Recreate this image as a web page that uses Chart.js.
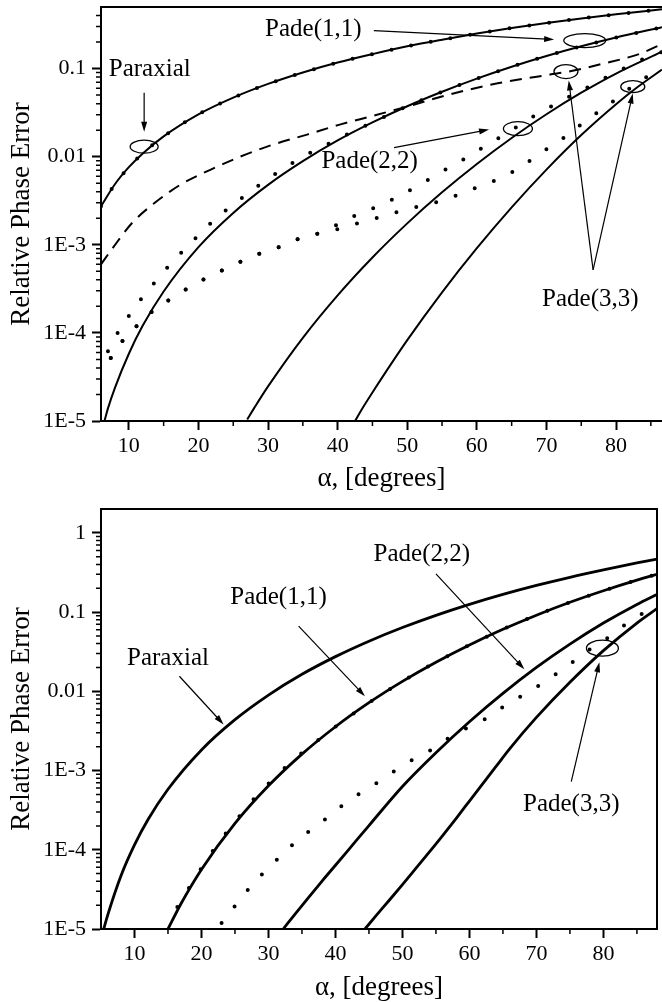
<!DOCTYPE html>
<html>
<head>
<meta charset="utf-8">
<script src="https://cdn.jsdelivr.net/npm/chart.js@4.4.1/dist/chart.umd.min.js"></script>
<style>
  html, body { margin: 0; padding: 0; background: #fff; }
  #wrap { position: relative; width: 662px; height: 1002px; }
  canvas { position: absolute; left: 0; }
  #topChart { top: 0; }
  #bottomChart { top: 500px; }
</style>
</head>
<body>
<div id="wrap">
  <canvas id="topChart" width="662" height="500"></canvas>
  <canvas id="bottomChart" width="662" height="502"></canvas>
</div>
<script>
// ================= TICKS =================
const xTickValues = [10, 20, 30, 40, 50, 60, 70, 80];
const xMinorTicks = [15, 25, 35, 45, 55, 65, 75, 85];
const yTickValues = [1e-5, 1e-4, 1e-3, 0.01, 0.1, 1];
const yTickText = ['1E-5', '1E-4', '1E-3', '0.01', '0.1', '1'];

// ================= TOP PANEL DATA =================
const topParaxialAngle = [6, 8, 10, 12, 15, 20, 25, 30, 35, 40, 45, 50, 55, 60, 65, 70, 75, 80, 86.6];
const topParaxialError = [0.00274, 0.00487, 0.0076, 0.0109, 0.0170, 0.0302, 0.0468, 0.0670, 0.0904, 0.117, 0.146, 0.179, 0.213, 0.250, 0.289, 0.329, 0.371, 0.413, 0.470];

const topPade11Angle = [6.5, 7, 8, 10, 12, 15, 20, 25, 30, 35, 40, 45, 50, 55, 60, 65, 70, 75, 80, 86.6];
const topPade11Error = [1.0e-5, 1.39e-5, 2.38e-5, 5.8e-5, 1.21e-4, 2.95e-4, 9.4e-4, 2.30e-3, 4.79e-3, 8.9e-3, 0.0153, 0.0245, 0.0374, 0.0546, 0.0769, 0.105, 0.139, 0.179, 0.225, 0.295];

const topPade11DotAngle = [7.0, 8.4, 10.0, 11.9, 13.9, 16.1, 18.5, 20.9, 23.5, 26.1, 28.6, 31.1, 33.6, 36.2, 38.8, 41.3, 45, 50, 55, 60, 65, 70, 75, 80, 86.6];
const topPade11DotError = [6.2e-5, 1.0e-4, 1.56e-4, 2.5e-4, 3.9e-4, 6.2e-4, 9.7e-4, 1.52e-3, 2.31e-3, 3.33e-3, 4.68e-3, 6.41e-3, 8.55e-3, 0.0112, 0.0142, 0.0178, 0.0245, 0.0374, 0.0546, 0.0769, 0.105, 0.139, 0.179, 0.225, 0.295];

const topDashAngle = [6.0, 7.6, 10.5, 13.5, 17.4, 21.7, 26.0, 30.7, 35.6, 40.3, 45, 50, 56, 63, 70.5, 73.2, 78, 83.4, 86.6];
const topDashError = [6.0e-4, 9.0e-4, 1.78e-3, 2.9e-3, 4.8e-3, 7.1e-3, 0.0100, 0.0137, 0.0178, 0.0231, 0.029, 0.037, 0.0507, 0.068, 0.0855, 0.0925, 0.113, 0.147, 0.19];

const topPade22Angle = [27, 28, 30, 35, 40, 45, 50, 55, 60, 65, 70, 75, 80, 86.6];
const topPade22Error = [1.04e-5, 1.40e-5, 2.47e-5, 8.8e-5, 2.67e-4, 7.18e-4, 1.75e-3, 3.94e-3, 8.26e-3, 0.0163, 0.0303, 0.0532, 0.0879, 0.1555];

const topPade22DotAngle = [7.4, 9.2, 11.6, 14.0, 16.8, 19.2, 21.8, 24.4, 27.0, 29.4, 32.0, 34.4, 37.0, 39.6, 42.1, 44.6, 47.2, 49.7, 52.3, 54.7, 57.3, 59.9, 62.5, 65.1, 67.6, 70.1, 72.7, 75.3, 77.7, 80.3, 82.7, 86.6];
const topPade22DotError = [5.2e-5, 8.3e-5, 1.3e-4, 1.92e-4, 2.63e-4, 3.51e-4, 4.44e-4, 5.62e-4, 6.94e-4, 8.3e-4, 9.7e-4, 1.17e-3, 1.33e-3, 1.64e-3, 2.08e-3, 2.50e-3, 3.08e-3, 3.90e-3, 5.07e-3, 6.58e-3, 8.55e-3, 0.0114, 0.0152, 0.0203, 0.0270, 0.0351, 0.0456, 0.0577, 0.0731, 0.0925, 0.117, 0.155];

const topPade33Angle = [42.5, 43.5, 45, 50, 55, 60, 65, 70, 75, 80, 83, 86.6];
const topPade33Error = [1.0e-5, 1.37e-5, 2.11e-5, 8.27e-5, 2.89e-4, 9.15e-4, 2.66e-3, 7.13e-3, 0.0176, 0.0394, 0.0609, 0.0973];

const topPade33DotAngle = [7.4, 9.2, 11.6, 14.0, 16.8, 19.2, 21.8, 24.4, 27.0, 29.4, 32.0, 34.4, 37.0, 39.6, 42.1, 44.6, 47.2, 49.7, 52.3, 54.9, 57.3, 59.9, 62.5, 65.2, 67.6, 70.1, 72.7, 75.3, 77.7, 80.3, 82.7, 85.3, 86.6];
const topPade33DotError = [5.2e-5, 8.3e-5, 1.3e-4, 1.92e-4, 2.63e-4, 3.51e-4, 4.44e-4, 5.62e-4, 6.94e-4, 8.3e-4, 9.7e-4, 1.17e-3, 1.33e-3, 1.48e-3, 1.69e-3, 1.92e-3, 2.19e-3, 2.50e-3, 2.80e-3, 3.15e-3, 3.70e-3, 4.44e-3, 5.34e-3, 6.76e-3, 9.0e-3, 0.0123, 0.0169, 0.0243, 0.0333, 0.0468, 0.0658, 0.0877, 0.097];

// ================= BOTTOM PANEL DATA =================
const botParaxialAngle = [5.4, 6, 8, 10, 12, 15, 20, 25, 30, 35, 40, 45, 50, 55, 60, 65, 70, 75, 80, 85, 88];
const botParaxialError = [1.0e-5, 1.50e-5, 4.73e-5, 1.15e-4, 2.39e-4, 5.80e-4, 1.82e-3, 4.39e-3, 8.97e-3, 0.0164, 0.0274, 0.0429, 0.0638, 0.0909, 0.125, 0.167, 0.217, 0.275, 0.341, 0.417, 0.466];

const botPade11Angle = [15, 17, 20, 25, 30, 35, 40, 45, 50, 55, 60, 65, 70, 75, 80, 85, 88];
const botPade11Error = [1.0e-5, 2.13e-5, 5.65e-5, 2.15e-4, 6.41e-4, 1.61e-3, 3.57e-3, 7.18e-3, 0.01335, 0.0233, 0.0385, 0.0606, 0.0914, 0.133, 0.186, 0.253, 0.300];

const botPade11DotAngle = [16.4, 18.8, 21.2, 23.7, 26.1, 28.5, 30.9, 33.3, 40, 45, 50, 55, 60, 65, 70, 75, 80, 85, 88];
const botPade11DotError = [1.9e-5, 4.06e-5, 8.4e-5, 1.64e-4, 2.94e-4, 5.1e-4, 8.1e-4, 1.26e-3, 3.57e-3, 7.18e-3, 0.01335, 0.0233, 0.0385, 0.0606, 0.0914, 0.133, 0.186, 0.253, 0.300];

const botPade22Angle = [32.2, 34, 36, 38, 40, 42.5, 45, 50, 55, 60, 65, 70, 75, 80, 85, 88];
const botPade22Error = [1.0e-5, 1.55e-5, 2.51e-5, 4.03e-5, 6.38e-5, 1.135e-4, 2.02e-4, 6.3e-4, 1.68e-3, 4.13e-3, 9.41e-3, 0.0200, 0.0394, 0.0727, 0.125, 0.167];

const botPade33Angle = [44.4, 46, 48, 50, 52, 54, 56, 58, 60, 62, 64, 66, 70, 75, 80, 85, 88];
const botPade33Error = [1.0e-5, 1.45e-5, 2.29e-5, 3.63e-5, 5.82e-5, 9.33e-5, 1.51e-4, 2.48e-4, 4.12e-4, 6.84e-4, 1.135e-3, 1.88e-3, 4.68e-3, 0.0130, 0.0326, 0.0727, 0.1107];

const botDotAngle = [23.0, 25.1, 27.3, 29.7, 32.2, 34.6, 37.2, 41.2, 43.8, 46.5, 48.9, 51.6, 54.1, 56.8, 59.5, 62.0, 64.4, 67.1, 69.7, 72.2, 74.8, 77.3, 80.0, 82.5, 85.2, 87.9];
const botDotError = [1.19e-5, 2.0e-5, 3.4e-5, 5.6e-5, 8.9e-5, 1.38e-4, 2.0e-4, 3.72e-4, 5.27e-4, 7.26e-4, 1.0e-3, 1.38e-3, 1.79e-3, 2.54e-3, 3.4e-3, 4.3e-3, 5.9e-3, 8.1e-3, 0.0109, 0.0150, 0.0213, 0.0312, 0.043, 0.0627, 0.089, 0.119];

// ================= STYLE =================
const FONT = "'Liberation Serif', 'Times New Roman', Times, serif";

function pts(xs, ys) {
  return xs.map((x, i) => ({ x: x, y: ys[i] }));
}

function solid(xs, ys, w) {
  return { data: pts(xs, ys), borderColor: '#000', borderWidth: w, pointRadius: 0,
    cubicInterpolationMode: 'monotone', fill: false };
}

function dotted(xs, ys, gap) {
  return { data: pts(xs, ys), borderColor: '#000', borderWidth: 4, borderDash: [0, gap],
    borderCapStyle: 'round', pointRadius: 0, cubicInterpolationMode: 'monotone', fill: false };
}

function dashed(xs, ys) {
  return { data: pts(xs, ys), borderColor: '#000', borderWidth: 2, borderDash: [12, 8],
    pointRadius: 0, cubicInterpolationMode: 'monotone', fill: false };
}

function logMinors(lo, hi) {
  const out = [];
  for (let e = -5; e <= 0; e++) {
    for (let m = 2; m <= 9; m++) {
      const v = m * Math.pow(10, e);
      if (v > lo && v < hi) out.push(v);
    }
  }
  return out;
}

function drawArrow(ctx, x1, y1, x2, y2) {
  const a = Math.atan2(y2 - y1, x2 - x1);
  const len = 10, half = 3;
  const c = Math.cos(a), s = Math.sin(a);
  ctx.beginPath();
  ctx.moveTo(x1, y1);
  ctx.lineTo(x2 - c * len * 0.7, y2 - s * len * 0.7);
  ctx.stroke();
  ctx.beginPath();
  ctx.moveTo(x2, y2);
  ctx.lineTo(x2 - c * len - s * half, y2 - s * len + c * half);
  ctx.lineTo(x2 - c * len + s * half, y2 - s * len - c * half);
  ctx.closePath();
  ctx.fill();
}

// ================= PLUGIN: frame, minor ticks, notes =================
const notesPlugin = {
  id: 'notes',
  afterDraw(chart, args, opts) {
    const { ctx, chartArea: a } = chart;
    const px = v => chart.scales.x.getPixelForValue(v);
    const py = v => chart.scales.y.getPixelForValue(v);
    ctx.save();
    ctx.strokeStyle = '#000';
    ctx.fillStyle = '#000';

    ctx.lineWidth = 2;
    ctx.beginPath();
    ctx.moveTo(a.left, a.top);
    ctx.lineTo(a.right, a.top);
    if (opts.rightEdge) ctx.lineTo(a.right, a.bottom);
    ctx.stroke();

    ctx.lineWidth = 1.5;
    ctx.beginPath();
    opts.xMinor.forEach(v => {
      ctx.moveTo(px(v), a.bottom);
      ctx.lineTo(px(v), a.bottom + 5);
    });
    opts.yMinor.forEach(v => {
      ctx.moveTo(a.left, py(v));
      ctx.lineTo(a.left - 5, py(v));
    });
    ctx.stroke();

    ctx.lineWidth = 1.3;
    opts.ellipses.forEach(e => {
      ctx.beginPath();
      ctx.ellipse(px(e.x), py(e.y), e.rx, e.ry, 0, 0, Math.PI * 2);
      ctx.stroke();
    });

    ctx.lineWidth = 1.2;
    opts.arrows.forEach(r => drawArrow(ctx, px(r.from[0]), py(r.from[1]), px(r.to[0]), py(r.to[1])));

    ctx.font = '25px ' + FONT;
    ctx.textAlign = 'center';
    ctx.textBaseline = 'middle';
    opts.labels.forEach(l => ctx.fillText(l.text, px(l.x), py(l.y)));
    ctx.restore();
  }
};

function axes(o) {
  return {
    x: {
      type: 'linear', min: o.xMin, max: o.xMax, bounds: 'data',
      afterBuildTicks: s => { s.ticks = xTickValues.map(v => ({ value: v })); },
      afterFit: s => { s.height = o.xHeight; s.paddingLeft = 0; s.paddingRight = 0; },
      grid: { drawOnChartArea: false, drawTicks: true, tickLength: 9, tickWidth: 2, tickColor: '#000' },
      border: { display: true, color: '#000', width: 2 },
      ticks: { color: '#000', font: { family: FONT, size: 22 }, padding: 3, maxRotation: 0, autoSkip: false },
      title: { display: true, text: 'α, [degrees]', color: '#000',
        font: { family: FONT, size: 27, lineHeight: 1 }, padding: { top: 0, bottom: o.xTitlePad } }
    },
    y: {
      type: 'logarithmic', min: 1e-5, max: o.yMax, bounds: 'data',
      afterBuildTicks: s => { s.ticks = yTickValues.filter(v => v <= o.yMax).map(v => ({ value: v })); },
      afterFit: s => { s.width = 101; s.paddingTop = 0; s.paddingBottom = 0; },
      grid: { drawOnChartArea: false, drawTicks: true, tickLength: 9, tickWidth: 2, tickColor: '#000' },
      border: { display: true, color: '#000', width: 2 },
      ticks: { color: '#000', font: { family: FONT, size: 22 }, padding: 6, autoSkip: false,
        callback: (v, i) => yTickText[i] },
      title: { display: true, text: 'Relative Phase Error', color: '#000',
        font: { family: FONT, size: 27, lineHeight: 1 }, padding: { top: 8, bottom: 0 } }
    }
  };
}

const baseOptions = {
  responsive: false,
  animation: false,
  devicePixelRatio: 1,
  events: [],
  plugins: { legend: { display: false }, tooltip: { enabled: false } }
};

// ================= TOP CHART =================
new Chart(document.getElementById('topChart').getContext('2d'), {
  type: 'line',
  data: {
    datasets: [
      solid(topParaxialAngle, topParaxialError, 2),
      dotted(topParaxialAngle, topParaxialError, 20),
      solid(topPade11Angle, topPade11Error, 2),
      dotted(topPade11DotAngle, topPade11DotError, 20.5),
      dashed(topDashAngle, topDashError),
      solid(topPade22Angle, topPade22Error, 2),
      dotted(topPade22DotAngle, topPade22DotError, 20.5),
      solid(topPade33Angle, topPade33Error, 2),
      dotted(topPade33DotAngle, topPade33DotError, 20.5)
    ]
  },
  options: Object.assign({}, baseOptions, {
    layout: { padding: { left: 0, top: 7, right: 0, bottom: 0 } },
    scales: axes({ xMin: 6, xMax: 86.6, yMax: 0.5, xHeight: 79, xTitlePad: 8 }),
    plugins: Object.assign({}, baseOptions.plugins, {
      notes: {
        rightEdge: false,
        xMinor: xMinorTicks,
        yMinor: logMinors(1e-5, 0.5),
        labels: [
          { text: 'Paraxial', x: 13.0, y: 0.0975 },
          { text: 'Pade(1,1)', x: 36.5, y: 0.277 },
          { text: 'Pade(2,2)', x: 44.6, y: 8.77e-3 },
          { text: 'Pade(3,3)', x: 76.3, y: 2.37e-4 }
        ],
        arrows: [
          { from: [12.2, 0.0533], to: [12.2, 0.0192] },
          { from: [45.2, 0.270], to: [71.1, 0.214] },
          { from: [48.1, 0.01265], to: [61.75, 0.0203] },
          { from: [76.7, 5.2e-4], to: [73.2, 0.0731] },
          { from: [76.7, 5.2e-4], to: [82.4, 0.052] }
        ],
        ellipses: [
          { x: 12.2, y: 0.013, rx: 14, ry: 6.5 },
          { x: 75.5, y: 0.208, rx: 21, ry: 7 },
          { x: 65.9, y: 0.0208, rx: 14.5, ry: 7 },
          { x: 72.8, y: 0.0925, rx: 12, ry: 7 },
          { x: 82.4, y: 0.0624, rx: 12, ry: 6 }
        ]
      }
    })
  }),
  plugins: [notesPlugin]
});

// ================= BOTTOM CHART =================
new Chart(document.getElementById('bottomChart').getContext('2d'), {
  type: 'line',
  data: {
    datasets: [
      solid(botParaxialAngle, botParaxialError, 2.8),
      solid(botPade11Angle, botPade11Error, 2.8),
      dotted(botPade11DotAngle, botPade11DotError, 22),
      solid(botPade22Angle, botPade22Error, 2.8),
      solid(botPade33Angle, botPade33Error, 2.8),
      dotted(botDotAngle, botDotError, 21)
    ]
  },
  options: Object.assign({}, baseOptions, {
    layout: { padding: { left: 0, top: 9, right: 5, bottom: 0 } },
    scales: axes({ xMin: 5, xMax: 88, yMax: 2, xHeight: 73, xTitlePad: 1 }),
    plugins: Object.assign({}, baseOptions.plugins, {
      notes: {
        rightEdge: true,
        xMinor: xMinorTicks,
        yMinor: logMinors(1e-5, 2),
        labels: [
          { text: 'Paraxial', x: 15.0, y: 0.0262 },
          { text: 'Pade(1,1)', x: 31.5, y: 0.155 },
          { text: 'Pade(2,2)', x: 52.9, y: 0.527 },
          { text: 'Pade(3,3)', x: 75.2, y: 3.72e-4 }
        ],
        arrows: [
          { from: [16.7, 0.0155], to: [23.3, 3.82e-3] },
          { from: [34.5, 0.0665], to: [44.4, 8.65e-3] },
          { from: [55.0, 0.303], to: [68.2, 0.019] },
          { from: [75.2, 7.26e-4], to: [79.4, 0.0233] }
        ],
        ellipses: [
          { x: 79.85, y: 0.035, rx: 16, ry: 8 }
        ]
      }
    })
  }),
  plugins: [notesPlugin]
});
</script>
</body>
</html>
